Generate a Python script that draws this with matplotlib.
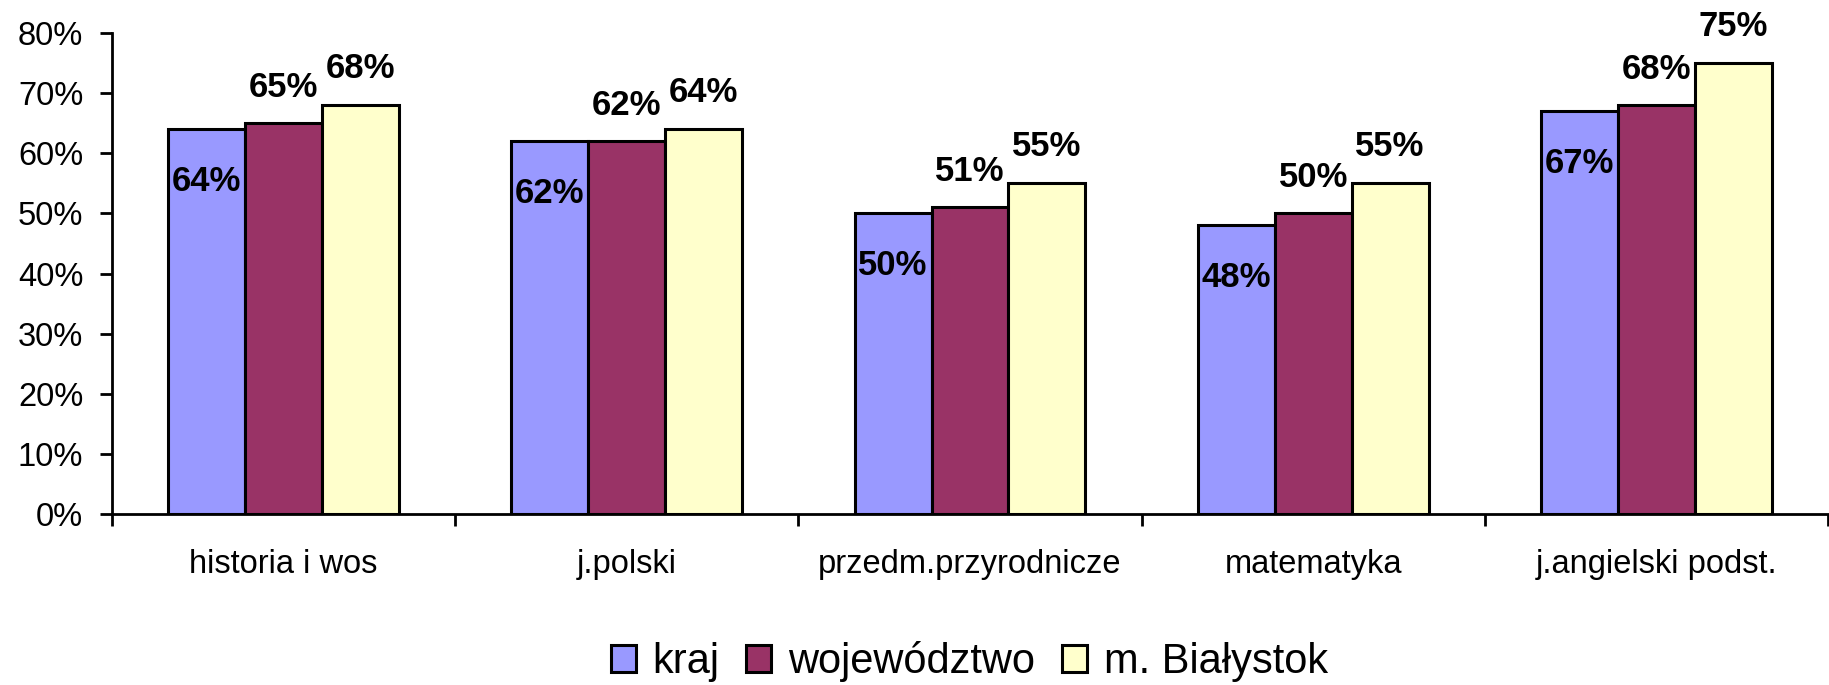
import matplotlib
matplotlib.use("Agg")
import matplotlib.pyplot as plt
import numpy as np
from matplotlib.ticker import PercentFormatter

plt.rcParams['font.family'] = ['Liberation Sans', 'DejaVu Sans']

categories = ['historia i wos', 'j.polski', 'przedm.przyrodnicze', 'matematyka', 'j.angielski podst.']
series_names = ['kraj', 'województwo', 'm. Białystok']
kraj = [64, 62, 50, 48, 67]
wojewodztwo = [65, 62, 51, 50, 68]
bialystok = [68, 64, 55, 55, 75]

colors = ['#9999FF', '#993366', '#FFFFCC']
# vertical label offset in pixels, per series (kraj labels sit inside the bar)
label_dy = [-52, 36, 37]

fig = plt.figure(figsize=(18.29, 6.85), dpi=100)
ax = fig.add_axes([0.0612, 0.2496, 0.9383, 0.7022])

x = np.arange(len(categories))
w = 0.224
values = [kraj, wojewodztwo, bialystok]
for i, (vals, name, col) in enumerate(zip(values, series_names, colors)):
    pos = x + (i - 1) * w
    bars = ax.bar(pos, vals, w, color=col, edgecolor='black', linewidth=2.2, label=name, zorder=2)
    for b, v in zip(bars, vals):
        ax.annotate(f'{v}%', (b.get_x() + b.get_width() / 2, v),
                    xytext=(0, label_dy[i]), textcoords='offset pixels',
                    ha='center', va='center', fontsize=25, fontweight='bold', zorder=5)

ax.set_xlim(-0.5, len(categories) - 0.5)
ax.set_ylim(0, 80)
ax.set_yticks(np.arange(0, 81, 10))
ax.yaxis.set_major_formatter(PercentFormatter(decimals=0))
ax.tick_params(axis='y', labelsize=23.5, length=8.6, width=2, pad=12)

ax.set_xticks(x)
ax.set_xticklabels(categories)
ax.set_xticks(np.arange(-0.5, len(categories), 1), minor=True)
ax.tick_params(axis='x', which='major', length=0, labelsize=23.5, pad=25)
ax.tick_params(axis='x', which='minor', length=8.6, width=2)

for s in ['top', 'right']:
    ax.spines[s].set_visible(False)
for s in ['left', 'bottom']:
    ax.spines[s].set_linewidth(2)

fig.legend(loc='center', bbox_to_anchor=(0.53, 0.034), ncol=3, frameon=False,
           fontsize=30, handlelength=0.6, handleheight=0.6, handletextpad=0.4,
           columnspacing=0.65)

fig.savefig('out.png', dpi=100)
